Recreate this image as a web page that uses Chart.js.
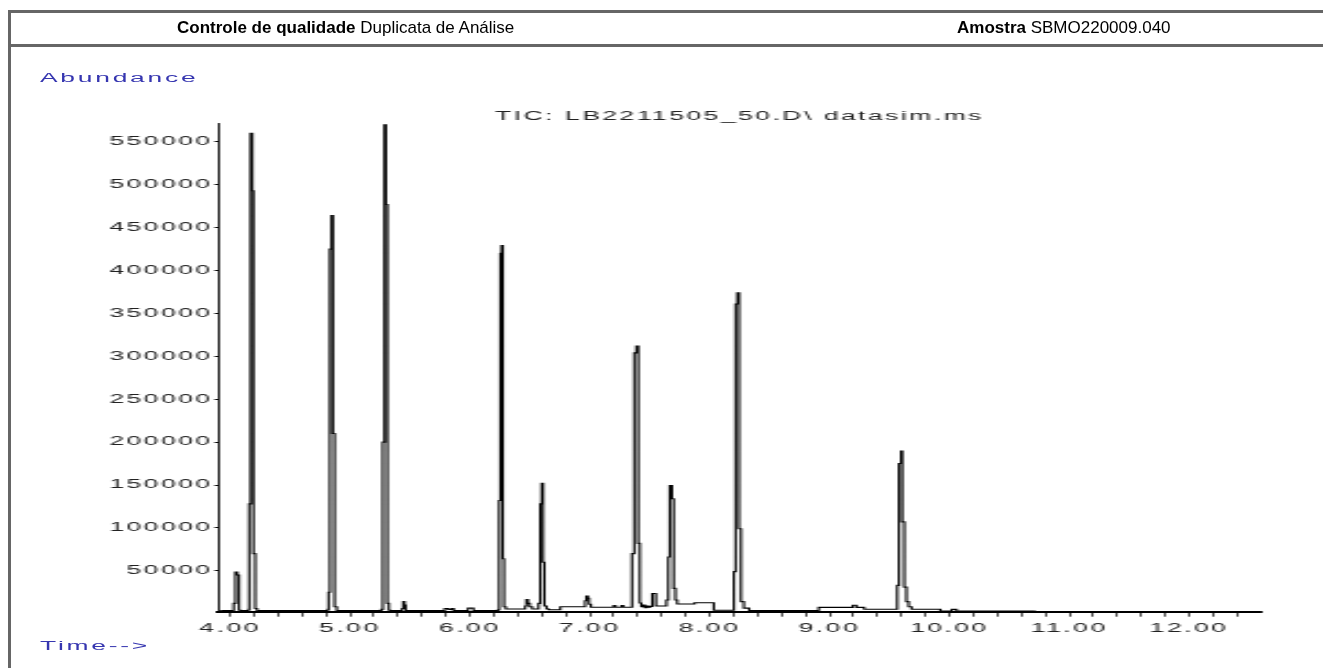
<!DOCTYPE html>
<html>
<head>
<meta charset="utf-8">
<script src="https://cdn.jsdelivr.net/npm/chart.js@4"></script>
<style>
html, body {
    margin: 0;
    padding: 0;
    background: #fff;
}

body {
    width: 1323px;
    height: 668px;
    position: relative;
    overflow: hidden;
    font-family: 'Liberation Sans', Arial, sans-serif;
}

/* report frame */
.frame {
    position: absolute;
    left: 8px;
    top: 10px;
    width: 1330px;
    height: 680px;
    border-left: 3px solid #666;
    border-top: 3px solid #666;
}

.header {
    position: absolute;
    left: 8px;
    top: 10px;
    width: 1330px;
    height: 34px;
    border-bottom: 3px solid #666;
}

.hdr {
    position: absolute;
    top: 18px;
    font-size: 17px;
    line-height: 20px;
    color: #000;
    white-space: nowrap;
}

.hdr b {
    font-weight: bold;
}

/* the printout is stretched sideways, so is the chart */
#tic {
    position: absolute;
    left: 0;
    top: 0;
    transform: scaleX(2.2);
    transform-origin: 0 0;
}

.axis-note {
    position: absolute;
    left: 40px;
    color: #3636b0;
    font-size: 12px;
    line-height: 14px;
    letter-spacing: 1.25px;
    transform: scaleX(2.2);
    transform-origin: 0 50%;
    white-space: nowrap;
}
</style>
</head>
<body>
<canvas id="tic" width="601.4" height="668"></canvas>

<div class="frame"></div>
<div class="header"></div>
<div class="hdr" style="left:177px"><b>Controle de qualidade</b> Duplicata de Análise</div>
<div class="hdr" style="left:957px"><b>Amostra</b> SBMO220009.040</div>

<div class="axis-note" style="top:71px">Abundance</div>
<div class="axis-note" style="top:639px">Time--&gt;</div>

<script>
// Retention time (min) and abundance
const times = [
    3.92, 4.02, 4.03, 4.045, 4.06, 4.075, 4.09,
    4.155, 4.16, 4.172, 4.185, 4.195, 4.21, 4.225,
    4.815, 4.822, 4.833, 4.846, 4.858, 4.872, 4.89,
    5.262, 5.274, 5.288, 5.300, 5.312, 5.325, 5.34,
    5.435, 5.445, 5.455, 5.465,
    5.79, 5.82, 5.85, 5.865, 5.985, 6.03,
    6.235, 6.245, 6.255, 6.265, 6.275, 6.285, 6.30,
    6.462, 6.472, 6.485, 6.50, 6.52,
    6.573, 6.587, 6.60, 6.61, 6.622, 6.64, 6.66,
    6.755, 6.962, 6.972, 6.985, 6.995, 7.01,
    7.20, 7.215, 7.265, 7.28,
    7.353, 7.372, 7.39, 7.405, 7.418, 7.43, 7.445, 7.46, 7.475, 7.49, 7.505,
    7.522, 7.552,
    7.64, 7.656, 7.668, 7.686, 7.70, 7.715, 7.73, 7.875, 8.035,
    8.203, 8.217, 8.232, 8.246, 8.262, 8.285, 8.33,
    8.91, 9.195, 9.225, 9.29,
    9.565, 9.58, 9.597, 9.607, 9.624, 9.642, 9.66, 9.685,
    9.925, 10.02, 10.06, 10.72
];

const abundance = [
    3500, 3500, 12000, 48500, 45000, 4000, 3500,
    5000, 128000, 560000, 493000, 70000, 6000, 3500,
    5000, 25000, 425000, 464000, 210000, 8000, 3500,
    5000, 200000, 570000, 477000, 12000, 4000, 3500,
    6000, 14000, 10000, 3500,
    6000, 5000, 6000, 3500, 6500, 3500,
    4500, 132000, 420000, 429000, 64000, 8000, 5500,
    9000, 16500, 12000, 8000, 5500,
    12000, 128000, 152000, 60000, 9000, 5500, 4500,
    8000, 15000, 20500, 18000, 11000, 7500,
    9500, 7500, 9500, 7500,
    70000, 304000, 312000, 82000, 12500, 8000, 10000, 7000, 9000, 7500, 8500,
    23500, 9000,
    16000, 66000, 149500, 134000, 29500, 16000, 11300, 12800, 4000,
    49000, 361000, 374000, 99000, 14000, 6500, 3500,
    7400, 9800, 7400, 5200,
    33000, 175000, 189500, 107000, 31000, 14000, 8000, 5200,
    3000, 5000, 3000, 3000
];

const abundanceTicks = [50000, 100000, 150000, 200000, 250000, 300000,
                        350000, 400000, 450000, 500000, 550000];

const timeMin = 3.9;
const timeMax = 12.6;
const abundanceMin = 2300;
const abundanceMax = 572000;

const textFont = {
    family: "'Liberation Sans', Arial, sans-serif",
    size: 12,
    weight: 'normal',
    lineHeight: 1
};

// wide spaced lettering like the instrument printout
const spacedText = {
    id: 'spacedText',
    beforeUpdate(chart) { chart.ctx.letterSpacing = '1.15px'; },
    beforeLayout(chart) { chart.ctx.letterSpacing = '1.15px'; },
    beforeDraw(chart) { chart.ctx.letterSpacing = '1.15px'; }
};

const ctx = document.getElementById('tic').getContext('2d');
new Chart(ctx, {
    type: 'line',
    data: {
        datasets: [{
            data: times.map((t, i) => ({ x: t, y: abundance[i] })),
            borderColor: '#000',
            borderWidth: 1.1,
            pointRadius: 0,
            stepped: true,
            fill: false
        }]
    },
    options: {
        responsive: false,
        animation: false,
        layout: {
            padding: { top: 111, right: 27.8, bottom: 0, left: 0 }
        },
        plugins: {
            legend: { display: false },
            tooltip: { enabled: false },
            title: {
                display: true,
                text: 'TIC: LB2211505_50.D\\ datasim.ms',
                fullSize: false,
                color: '#222',
                font: textFont,
                padding: { top: 0, bottom: 0 }
            }
        },
        scales: {
            x: {
                type: 'linear',
                min: timeMin,
                max: timeMax,
                afterFit(scale) { scale.height = 56.3; },
                border: { color: '#000', width: 2 },
                grid: {
                    drawOnChartArea: false,
                    tickLength: 5,
                    color: '#000',
                    lineWidth: 0.7
                },
                ticks: {
                    stepSize: 0.2,
                    autoSkip: false,
                    maxRotation: 0,
                    includeBounds: false,
                    padding: 6,
                    color: '#222',
                    font: textFont,
                    callback: v => Math.abs(v - Math.round(v)) < 1e-6 ? v.toFixed(2) : ''
                }
            },
            y: {
                min: abundanceMin,
                max: abundanceMax,
                afterFit(scale) { scale.width = 99.1; },
                afterBuildTicks(scale) {
                    scale.ticks = abundanceTicks.map(v => ({ value: v }));
                },
                border: { color: '#000', width: 0.9 },
                grid: {
                    drawOnChartArea: false,
                    tickLength: 1.6,
                    color: '#000',
                    lineWidth: 1
                },
                ticks: {
                    autoSkip: false,
                    padding: 0.9,
                    color: '#222',
                    font: textFont,
                    callback: v => String(v)
                }
            }
        }
    },
    plugins: [spacedText]
});
</script>
</body>
</html>
